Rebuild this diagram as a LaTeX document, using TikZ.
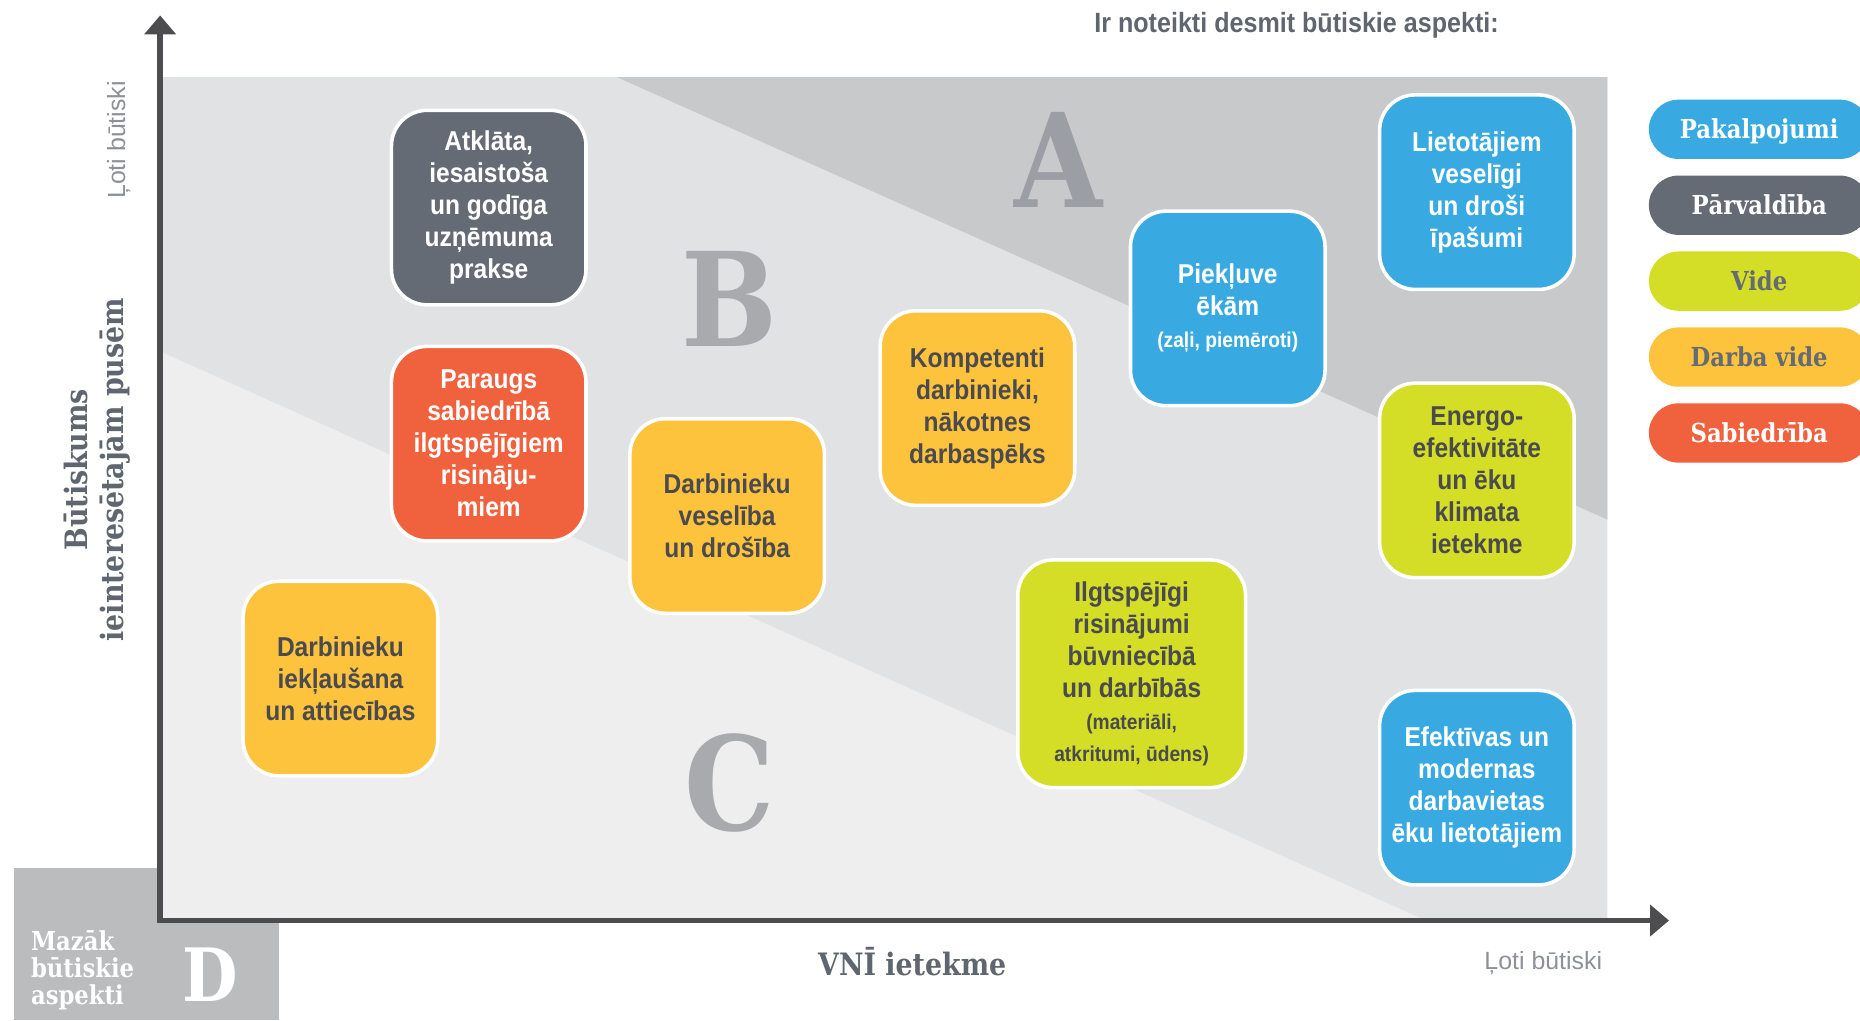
\documentclass[tikz,border=0pt]{standalone}
\usepackage{fontspec}
\setmainfont{Liberation Sans}
\newfontfamily\condfont{Liberation Sans}[FakeStretch=0.9]
\newfontfamily\slabfont{DejaVu Serif}[FakeStretch=0.87]
\usetikzlibrary{arrows.meta}
\definecolor{cblue}{HTML}{39AAE1}
\definecolor{cgray}{HTML}{646B74}
\definecolor{cred}{HTML}{F0613E}
\definecolor{cyellow}{HTML}{FEC33C}
\definecolor{cgreen}{HTML}{D4DE27}
\definecolor{cdark}{HTML}{4A4A4F}
\definecolor{zoneA}{HTML}{C8C9CB}
\definecolor{zoneB}{HTML}{E1E2E4}
\definecolor{zoneC}{HTML}{EEEEEE}
\definecolor{zoneD}{HTML}{BBBCBE}
\definecolor{letA}{HTML}{9B9EA4}
\definecolor{letB}{HTML}{A9AAAE}
\definecolor{axiscol}{HTML}{4D4D4F}
\definecolor{labcol}{HTML}{5F6670}
\definecolor{thincol}{HTML}{8D9096}
\newcommand\smalltxt{\fontsize{18}{27}\selectfont}
\begin{document}
\begin{tikzpicture}[x=1pt,y=-1pt,
  aspect/.style={rectangle, rounded corners=30pt, draw=white, line width=3pt,
    minimum width=164pt, minimum height=164pt, inner sep=0pt, align=center,
    font=\condfont\bfseries\fontsize{23}{27}\selectfont},
  pill/.style={rectangle, rounded corners=25pt, minimum width=186pt,
    minimum height=50pt, inner sep=0pt, text height=16pt, text depth=0pt,
    font=\slabfont\bfseries\fontsize{22}{26}\selectfont},
  bigletter/.style={inner sep=0pt, font=\slabfont\bfseries\fontsize{110}{110}\selectfont},
  axisline/.style={draw=axiscol, line width=4.5pt, -{Triangle[width=26pt,length=16pt]}},
  slablabel/.style={inner sep=0pt, text=labcol, font=\slabfont\bfseries\fontsize{26}{31}\selectfont},
  thinlabel/.style={inner sep=0pt, text=thincol, font=\fontsize{21}{25}\selectfont}
]
\useasboundingbox (0,0) rectangle (1568,860);

% D box
\fill[zoneD] (12,732) rectangle (235,860);
% zones
\fill[zoneC] (137,65) rectangle (1355,775);
\fill[zoneB] (137,65) -- (1355,65) -- (1355,775) -- (1200,775) -- (137,297) -- cycle;
\fill[zoneA] (520,65) -- (1355,65) -- (1355,438) -- cycle;

% big letters
\node[bigletter, text=letA] (A) at (892,135) {A};
\node[bigletter, text=letB] (B) at (615,252) {B};
\node[bigletter, text=letB] (C) at (615,660) {C};
\node[inner sep=0pt, text=white, font=\slabfont\bfseries\fontsize{62}{62}\selectfont] (D) at (177,822) {D};
\node[anchor=west, align=left, inner sep=0pt, text=white,
  font=\slabfont\bfseries\fontsize{22}{23}\selectfont] (Dtxt) at (26,818) {Mazāk\\būtiskie\\aspekti};

% axes
\coordinate (O) at (135,776);
\coordinate (ytop) at (135,13);
\coordinate (xend) at (1407,776);
\draw[axisline] ([yshift=-2.25pt]O) -- (ytop);
\draw[axisline] ([xshift=-2.25pt]O) -- (xend);

% axis labels
\node[slablabel, rotate=90, align=center] (ylab) at (82,396) {Būtiskums\\ieinteresētajām pusēm};
\node[thinlabel, rotate=90] (yhigh) at (100,118) {Ļoti būtiski};
\node[slablabel] (xlab) at (769,811) {VNĪ ietekme};
\node[thinlabel, text depth=0pt] (xhigh) at (1301,810) {Ļoti būtiski};
\node[inner sep=0pt, text=labcol, text depth=0pt, font=\condfont\bfseries\fontsize{23.5}{27}\selectfont] (title) at (1093,19) {Ir noteikti desmit būtiskie aspekti:};

% aspects
\node[aspect, fill=cgray, text=white] (atk) at (412,175) {Atklāta,\\iesaistoša\\un godīga\\uzņēmuma\\prakse};
\node[aspect, fill=cred, text=white] (par) at (412,374) {Paraugs\\sabiedrībā\\ilgtspējīgiem\\risināju-\\miem};
\node[aspect, fill=cyellow, text=cdark] (iek) at (287,572) {Darbinieku\\iekļaušana\\un attiecības};
\node[aspect, fill=cyellow, text=cdark] (ves) at (613,435) {Darbinieku\\veselība\\un drošība};
\node[aspect, fill=cyellow, text=cdark] (komp) at (824,344) {Kompetenti\\darbinieki,\\nākotnes\\darbaspēks};
\node[aspect, fill=cblue, text=white] (piek) at (1035,260) {Piekļuve\\ēkām\\{\smalltxt (zaļi, piemēroti)}};
\node[aspect, fill=cblue, text=white] (liet) at (1245,162) {Lietotājiem\\veselīgi\\un droši\\īpašumi};
\node[aspect, fill=cgreen, text=cdark] (ener) at (1245,405) {Energo-\\efektivitāte\\un ēku\\klimata\\ietekme};
\node[aspect, fill=cgreen, text=cdark, minimum width=192pt, minimum height=192pt] (ilgt) at (954,568) {Ilgtspējīgi\\risinājumi\\būvniecībā\\un darbībās\\{\smalltxt (materiāli,}\\{\smalltxt atkritumi, ūdens)}};
\node[aspect, fill=cblue, text=white] (efek) at (1245,664) {Efektīvas un\\modernas\\darbavietas\\ēku lietotājiem};

% legend
\node[pill, fill=cblue, text=white] (lg1) at (1483,109) {Pakalpojumi};
\node[pill, fill=cgray, text=white] (lg2) at (1483,173) {Pārvaldība};
\node[pill, fill=cgreen, text=cgray] (lg3) at (1483,237) {Vide};
\node[pill, fill=cyellow, text=cgray] (lg4) at (1483,301) {Darba vide};
\node[pill, fill=cred, text=white] (lg5) at (1483,365) {Sabiedrība};
\end{tikzpicture}
\end{document}
